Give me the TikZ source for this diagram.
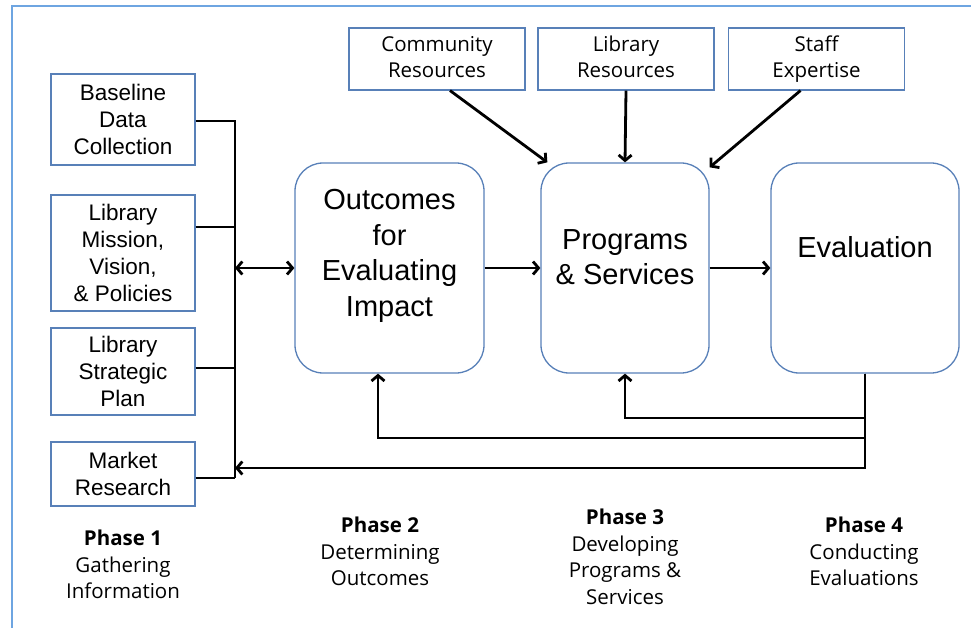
\documentclass[tikz,border=0pt]{standalone}
\usepackage{fontspec}
\setmainfont{Liberation Sans}
\newfontfamily\phasefont{Open Sans}
\usetikzlibrary{arrows.meta,positioning,calc}
\definecolor{boxblue}{RGB}{88,128,184}
\definecolor{frameblue}{RGB}{110,165,225}

\begin{document}
\begin{tikzpicture}[x=1pt, y=-1pt, >={Straight Barb[length=5.5pt,width=13pt]},
    infobox/.style={draw=boxblue, line width=1.1pt, align=center, inner sep=0pt, minimum width=144pt, font=\fontsize{22.5}{27}\selectfont},
    resbox/.style={draw=boxblue, line width=1.1pt, align=center, inner sep=0pt, minimum width=176pt, minimum height=62pt, font=\phasefont\fontsize{20.5}{26}\selectfont, execute at begin node=\rule{0pt}{29pt}, execute at end node=\vphantom{p}},
    bigbox/.style={draw=boxblue, line width=1.3pt, rounded corners=28pt, minimum height=210pt, inner sep=0pt},
    bigtext/.style={align=center, inner sep=0pt, font=\fontsize{29}{35.5}\selectfont},
    phase/.style={align=center, inner sep=0pt, font=\phasefont\fontsize{20.5}{26.5}\selectfont},
    link/.style={line width=2.8pt}]
    \useasboundingbox (0,0) rectangle (971,628);
    \draw[frameblue, line width=1.2pt] (971,6) -- (12,6) -- (12,628);

    % phase 1 inputs
    \node[infobox, minimum height=91pt] (baseline) at (123,119.5) {Baseline\\Data\\Collection};
    \node[infobox, minimum height=116pt] (mission) at (123,253) {Library\\Mission,\\Vision,\\\& Policies};
    \node[infobox, minimum height=87pt] (strategic) at (123,371.5) {Library\\Strategic\\Plan};
    \node[infobox, minimum height=64pt] (market) at (123,474) {Market\\Research};

    % resources
    \node[resbox] (community) at (437,59) {Community\\Resources};
    \node[resbox] (libres) at (626,59) {Library\\Resources};
    \node[resbox] (staff) at (816.5,59) {Staff\\Expertise};

    % main steps
    \node[bigbox, minimum width=189pt] (outcomes) at (389.5,268) {};
    \node[bigtext] (outcomes-txt) at ([yshift=12pt]outcomes.center) {Outcomes\\for\\Evaluating\\Impact};
    \node[bigbox, minimum width=168pt] (programs) at (625,268) {};
    \node[bigtext] (programs-txt) at ([yshift=11pt]programs.center) {Programs\\\& Services};
    \node[bigbox, minimum width=188pt] (evaluation) at (865,268) {};
    \node[bigtext] (evaluation-txt) at ([yshift=21pt]evaluation.center) {Evaluation};

    % phase labels
    \node[phase] (phase1) at (123,564.5) {\textbf{Phase 1}\\Gathering\\Information};
    \node[phase] (phase2) at (380,551.5) {\textbf{Phase 2}\\Determining\\Outcomes};
    \node[phase] (phase3) at (625,557) {\textbf{Phase 3}\\Developing\\Programs \&\\Services};
    \node[phase] (phase4) at (864,551.5) {\textbf{Phase 4}\\Conducting\\Evaluations};

    % bus on the left
    \coordinate (j1) at (235,121);
    \coordinate (j2) at (235,227);
    \coordinate (j3) at (235,368);
    \coordinate (j4) at (235,478);
    \coordinate (jm) at (235,268);
    \coordinate (jb) at (235,468);
    \coordinate (r1) at (625,418);
    \coordinate (r2) at (378,438);

    \draw[link] ([yshift=-1.5pt]baseline.east) -- (j1) -- (j4);
    \draw[link] ([yshift=26pt]mission.east) -- (j2);
    \draw[link] ([yshift=3.5pt]strategic.east) -- (j3);
    \draw[link] ([yshift=-4pt]market.east) -- (j4);
    \draw[link, <->] (jm) -- (outcomes.west);

    \draw[link, ->] (outcomes.east) -- (programs.west);
    \draw[link, ->] (programs.east) -- (evaluation.west);

    \draw[link, ->] ([xshift=13pt]community.south) -- ([xshift=7pt]programs.north west);
    \draw[link, ->] (libres.south) -- (programs.north);
    \draw[link, ->] ([xshift=-16pt]staff.south) -- ([yshift=-5pt]programs.north east);

    % feedback from evaluation
    \draw[link, ->] (evaluation.south) |- (r1) -- (programs.south);
    \draw[link, ->] (evaluation.south) |- (r2) -- (r2 |- outcomes.south);
    \draw[link, ->] (evaluation.south) |- (jb);
\end{tikzpicture}
\end{document}
